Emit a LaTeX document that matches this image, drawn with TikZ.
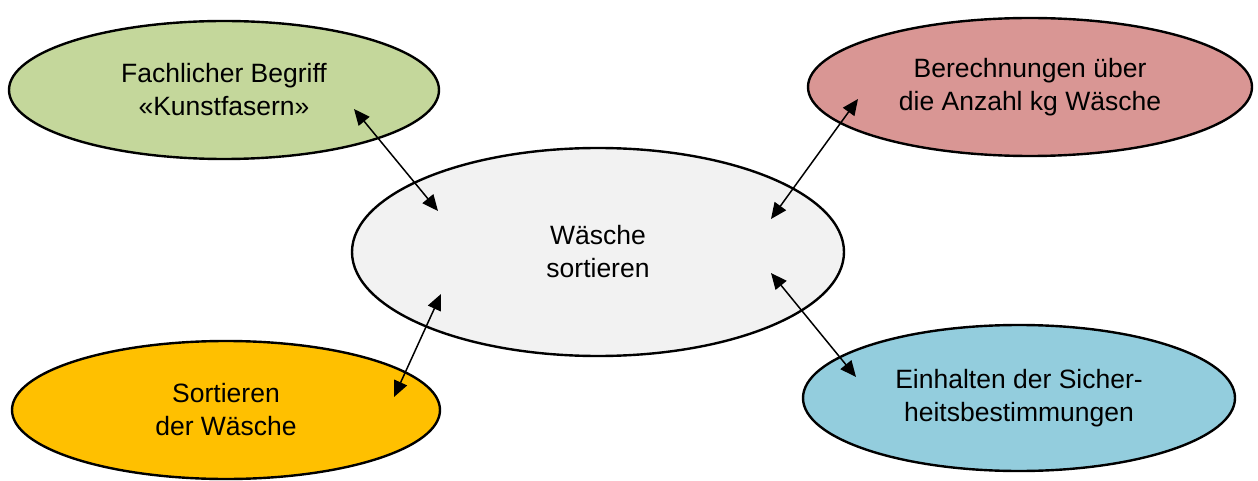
\documentclass[tikz,border=0pt]{standalone}
\usepackage{fontspec}
\setmainfont{Liberation Sans}
\usetikzlibrary{arrows.meta,shapes.geometric,calc}
\definecolor{cgreen}{RGB}{196,215,155}
\definecolor{cred}{RGB}{217,150,148}
\definecolor{cgray}{RGB}{242,242,242}
\definecolor{corange}{RGB}{255,192,0}
\definecolor{cblue}{RGB}{147,205,221}
\tikzset{
  bubble/.style={ellipse, draw=black, line width=2.4pt, inner sep=0pt,
    font=\fontsize{26.5}{33}\selectfont, align=center},
  link/.style={line width=1.5pt, {Triangle[length=16pt,width=14pt]}-{Triangle[length=16pt,width=14pt]}}
}
\begin{document}
\begin{tikzpicture}[x=1pt,y=-1pt]
\useasboundingbox (0,0) rectangle (1258,481);
\node[bubble, fill=cgreen, minimum width=430pt, minimum height=138pt] (g) at (224,90) {Fachlicher Begriff\\«Kunstfasern»};
\node[bubble, fill=cred, minimum width=444pt, minimum height=138pt] (r) at (1030,87) {Berechnungen über\\die Anzahl kg Wäsche};
\node[bubble, fill=cgray, minimum width=492pt, minimum height=208pt] (c) at (598,252) {Wäsche\\sortieren};
\node[bubble, fill=corange, minimum width=428pt, minimum height=138pt] (o) at (226,410) {Sortieren\\der Wäsche};
\node[bubble, fill=cblue, minimum width=432pt, minimum height=146pt] (b) at (1019,398) {Einhalten der Sicher-\\heitsbestimmungen};
\coordinate (g1) at (354,109);
\coordinate (c1) at (438,211);
\coordinate (r1) at (858,99);
\coordinate (c2) at (771,219);
\coordinate (o1) at (394,397);
\coordinate (c3) at (441,294);
\coordinate (b1) at (856,377);
\coordinate (c4) at (771,273);
\draw[link] (g1) -- (c1);
\draw[link] (r1) -- (c2);
\draw[link] (c3) -- (o1);
\draw[link] (c4) -- (b1);
\end{tikzpicture}
\end{document}
